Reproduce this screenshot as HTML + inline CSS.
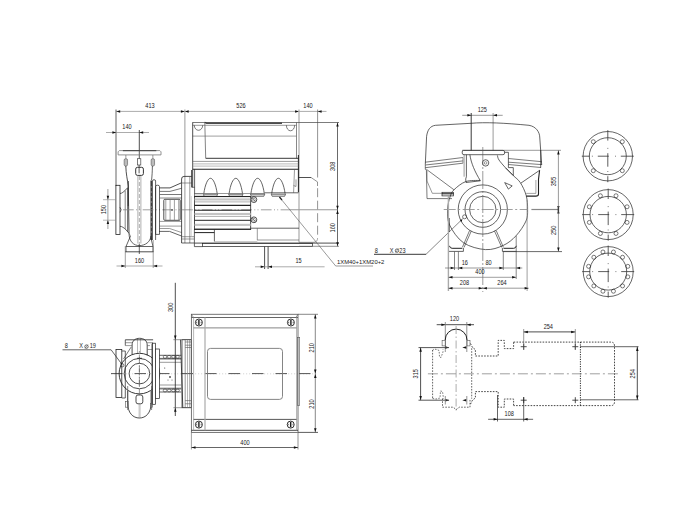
<!DOCTYPE html>
<html><head><meta charset="utf-8"><style>
html,body{margin:0;padding:0;background:#fff;width:700px;height:512px;overflow:hidden}
svg{display:block;font-family:"Liberation Sans",sans-serif}
</style></head><body>
<svg width="700" height="512" viewBox="0 0 700 512" stroke-linecap="butt">
<line x1="116.00" y1="111.40" x2="326.50" y2="111.40" stroke="#888" stroke-width="0.7"/>
<path d="M116.30,111.40 L120.20,110.15 L120.20,112.65Z" fill="#111"/>
<path d="M184.80,111.40 L180.90,110.15 L180.90,112.65Z" fill="#111"/>
<path d="M184.80,111.40 L188.70,110.15 L188.70,112.65Z" fill="#111"/>
<path d="M299.00,111.40 L295.10,110.15 L295.10,112.65Z" fill="#111"/>
<path d="M317.70,111.40 L321.60,110.15 L321.60,112.65Z" fill="#111"/>
<text transform="translate(150.00 106.20) scale(0.86 1)" font-size="6.5" fill="#1a1a1a" text-anchor="middle" dominant-baseline="central">413</text>
<text transform="translate(241.00 106.20) scale(0.86 1)" font-size="6.5" fill="#1a1a1a" text-anchor="middle" dominant-baseline="central">526</text>
<text transform="translate(308.00 106.20) scale(0.86 1)" font-size="6.5" fill="#1a1a1a" text-anchor="middle" dominant-baseline="central">140</text>
<line x1="116.00" y1="109.50" x2="116.00" y2="186.00" stroke="#666" stroke-width="1.0"/>
<line x1="184.90" y1="109.50" x2="184.90" y2="243.00" stroke="#999" stroke-width="1.0"/>
<line x1="299.00" y1="109.50" x2="299.00" y2="242.30" stroke="#aaa" stroke-width="1.2"/>
<line x1="317.60" y1="109.50" x2="317.60" y2="177.50" stroke="#666" stroke-width="0.7"/>
<path d="M311.10,177.50 L317.50,181.90 L317.50,186.00" stroke="#666" stroke-width="0.7" fill="none"/>
<line x1="317.60" y1="188.20" x2="317.60" y2="238.00" stroke="#777" stroke-width="0.8" stroke-dasharray="9 3.5"/>
<path d="M317.6,238 Q317.6,242.3 313.3,242.3 L299,242.3" stroke="#888" stroke-width="0.7" fill="none"/>
<line x1="106.00" y1="132.50" x2="149.00" y2="132.50" stroke="#888" stroke-width="0.7"/>
<path d="M116.30,132.50 L112.40,131.25 L112.40,133.75Z" fill="#111"/>
<path d="M139.30,132.50 L143.20,131.25 L143.20,133.75Z" fill="#111"/>
<text transform="translate(127.00 127.20) scale(0.86 1)" font-size="6.5" fill="#1a1a1a" text-anchor="middle" dominant-baseline="central">140</text>
<line x1="139.30" y1="130.00" x2="139.30" y2="150.00" stroke="#222" stroke-width="0.8"/>
<line x1="139.30" y1="150.00" x2="139.30" y2="158.70" stroke="#333" stroke-width="0.8"/>
<line x1="137.90" y1="175.50" x2="137.90" y2="243.50" stroke="#777" stroke-width="0.6"/>
<line x1="140.90" y1="175.50" x2="140.90" y2="243.50" stroke="#777" stroke-width="0.6"/>
<line x1="139.40" y1="176.00" x2="139.40" y2="243.00" stroke="#bbb" stroke-width="1.2" stroke-dasharray="4 2"/>
<line x1="139.30" y1="243.50" x2="139.30" y2="254.00" stroke="#222" stroke-width="0.7"/>
<path d="M118.1,151.8 L119.3,150.6 L159.8,150.6 L161,151.8 L161,154.9 L118.1,154.9 Z" stroke="#777" stroke-width="0.8" fill="none"/>
<line x1="122.90" y1="150.70" x2="156.30" y2="150.70" stroke="#333" stroke-width="0.9"/>
<rect x="124.15" y="158.70" width="3.40" height="7.30" rx="1.4" stroke="#555" stroke-width="0.6" fill="#bbb"/>
<line x1="125.85" y1="155.00" x2="125.85" y2="158.70" stroke="#555" stroke-width="0.6"/>
<rect x="151.15" y="158.70" width="3.40" height="7.30" rx="1.4" stroke="#555" stroke-width="0.6" fill="#bbb"/>
<line x1="152.85" y1="155.00" x2="152.85" y2="158.70" stroke="#555" stroke-width="0.6"/>
<rect x="137.40" y="158.70" width="3.40" height="6.30" rx="0" stroke="#444" stroke-width="0.7" fill="none"/>
<rect x="135.70" y="167.30" width="7.70" height="8.10" rx="1.8" stroke="#333" stroke-width="1.0" fill="none"/>
<line x1="139.10" y1="165.00" x2="139.10" y2="173.30" stroke="#333" stroke-width="0.8"/>
<path d="M125.8,166 C126,174 127.5,180 128.3,186 L129,233" stroke="#222" stroke-width="0.8" fill="none"/>
<line x1="128.20" y1="181.00" x2="128.20" y2="206.00" stroke="#333" stroke-width="1.0"/>
<path d="M152.4,166 C152.3,172 152,176 151.6,180" stroke="#222" stroke-width="0.7" fill="none"/>
<line x1="151.20" y1="180.50" x2="151.20" y2="240.00" stroke="#333" stroke-width="1.5"/>
<line x1="151.20" y1="186.00" x2="151.20" y2="236.00" stroke="#bbb" stroke-width="0.6" stroke-dasharray="2 3"/>
<path d="M152.5,240 L152.5,181 Q152.5,179.7 154,179.7 Q155.6,179.7 155.6,181 L155.6,240" stroke="#222" stroke-width="0.7" fill="none"/>
<rect x="115.90" y="185.30" width="4.10" height="49.20" rx="0" stroke="#222" stroke-width="0.8" fill="none"/>
<path d="M120,193.5 C122,193.5 124,191.5 125.2,190.3 L127.6,187.8" stroke="#222" stroke-width="0.7" fill="none"/>
<path d="M120,226.3 C122,226.3 124,228 125.2,229 L128.8,233" stroke="#222" stroke-width="0.7" fill="none"/>
<path d="M120,207.3 Q122.3,209.8 120,212.3" stroke="#222" stroke-width="0.7" fill="none"/>
<line x1="125.20" y1="190.30" x2="125.20" y2="229.00" stroke="#555" stroke-width="0.7"/>
<line x1="127.60" y1="187.80" x2="127.60" y2="232.00" stroke="#444" stroke-width="0.8"/>
<path d="M129,233 C129,242 134,245.6 139.3,245.6 C145,245.6 150.5,242 150.9,236" stroke="#222" stroke-width="0.7" fill="none"/>
<path d="M128.8,233 L130.5,236" stroke="#555" stroke-width="0.6" fill="none"/>
<path d="M130.50,236.00 L126.00,246.50 L153.00,246.50 L150.90,238.00" stroke="#222" stroke-width="0.7" fill="none"/>
<line x1="126.00" y1="246.50" x2="126.00" y2="252.00" stroke="#222" stroke-width="0.7"/>
<line x1="153.00" y1="246.50" x2="153.00" y2="252.00" stroke="#222" stroke-width="0.7"/>
<line x1="125.00" y1="251.80" x2="153.50" y2="251.80" stroke="#222" stroke-width="0.8"/>
<line x1="125.30" y1="246.00" x2="125.30" y2="268.00" stroke="#777" stroke-width="0.7"/>
<line x1="153.20" y1="240.00" x2="153.20" y2="268.00" stroke="#777" stroke-width="0.7"/>
<line x1="116.50" y1="266.00" x2="162.50" y2="266.00" stroke="#888" stroke-width="0.7"/>
<path d="M125.30,266.00 L121.40,264.75 L121.40,267.25Z" fill="#111"/>
<path d="M153.20,266.00 L157.10,264.75 L157.10,267.25Z" fill="#111"/>
<text transform="translate(139.50 260.70) scale(0.86 1)" font-size="6.5" fill="#1a1a1a" text-anchor="middle" dominant-baseline="central">160</text>
<line x1="107.90" y1="189.00" x2="107.90" y2="229.00" stroke="#777" stroke-width="0.7"/>
<path d="M107.90,199.70 L106.65,195.80 L109.15,195.80Z" fill="#111"/>
<path d="M107.90,220.20 L106.65,224.10 L109.15,224.10Z" fill="#111"/>
<line x1="103.00" y1="199.70" x2="116.00" y2="199.70" stroke="#888" stroke-width="0.6"/>
<line x1="103.00" y1="220.20" x2="116.00" y2="220.20" stroke="#888" stroke-width="0.6"/>
<text transform="translate(103.50 209.60) rotate(-90) scale(0.86 1)" font-size="6.5" fill="#1a1a1a" text-anchor="middle" dominant-baseline="central">150</text>
<line x1="123.00" y1="209.80" x2="290.00" y2="209.80" stroke="#888" stroke-width="0.8" stroke-dasharray="10.7 2.4 1 2.2 1 2.4"/>
<line x1="290.00" y1="209.80" x2="337.50" y2="209.80" stroke="#999" stroke-width="1.1"/>
<path d="M155.6,234.4 L155.6,186.5 Q155.6,185.2 157.5,185.2 Q159.5,185.2 159.5,186.5 L159.5,234.4 Z" stroke="#222" stroke-width="0.7" fill="none"/>
<path d="M159.50,187.90 L170.00,187.90 L181.50,182.80" stroke="#222" stroke-width="0.8" fill="none"/>
<path d="M159.50,191.40 L170.00,191.40 L181.50,188.30" stroke="#555" stroke-width="0.8" fill="none"/>
<line x1="159.50" y1="194.50" x2="181.50" y2="194.50" stroke="#555" stroke-width="0.8"/>
<line x1="159.50" y1="198.00" x2="181.50" y2="198.00" stroke="#555" stroke-width="0.7"/>
<line x1="159.00" y1="221.40" x2="181.50" y2="221.40" stroke="#555" stroke-width="0.6"/>
<line x1="159.00" y1="226.10" x2="181.50" y2="226.10" stroke="#555" stroke-width="0.6"/>
<path d="M159.00,231.40 L169.60,231.40 L181.50,236.00" stroke="#222" stroke-width="0.7" fill="none"/>
<path d="M159.00,228.50 L169.60,228.50 L181.50,232.50" stroke="#555" stroke-width="0.6" fill="none"/>
<rect x="163.80" y="199.30" width="16.40" height="21.00" rx="1" stroke="#222" stroke-width="0.8" fill="none"/>
<line x1="165.80" y1="200.00" x2="165.80" y2="220.00" stroke="#777" stroke-width="0.7"/>
<line x1="170.10" y1="200.00" x2="170.10" y2="220.00" stroke="#777" stroke-width="0.7"/>
<line x1="174.40" y1="200.00" x2="174.40" y2="220.00" stroke="#777" stroke-width="0.7"/>
<line x1="178.70" y1="200.00" x2="178.70" y2="220.00" stroke="#777" stroke-width="0.7"/>
<circle cx="172.00" cy="210.00" r="0.80" stroke="#222" stroke-width="0" fill="#222"/>
<path d="M181.6,243 L181.6,179 Q181.6,176.4 184,176.4 L191.7,176.4" stroke="#222" stroke-width="0.8" fill="none"/>
<line x1="189.80" y1="176.40" x2="189.80" y2="243.00" stroke="#555" stroke-width="0.6"/>
<line x1="181.60" y1="183.00" x2="191.70" y2="183.00" stroke="#555" stroke-width="0.6"/>
<line x1="181.60" y1="236.70" x2="194.00" y2="236.70" stroke="#555" stroke-width="0.6"/>
<line x1="181.60" y1="239.00" x2="194.00" y2="239.00" stroke="#555" stroke-width="0.6"/>
<line x1="181.60" y1="243.00" x2="194.00" y2="243.00" stroke="#222" stroke-width="0.7"/>
<path d="M204.6,122.4 L206.6,123.1 L282,123.1" stroke="#111" stroke-width="1.4" fill="none"/>
<line x1="192.70" y1="122.50" x2="339.00" y2="122.50" stroke="#444" stroke-width="0.7"/>
<line x1="192.70" y1="125.30" x2="296.40" y2="125.30" stroke="#555" stroke-width="0.6"/>
<line x1="192.70" y1="136.10" x2="296.40" y2="136.10" stroke="#777" stroke-width="0.7"/>
<line x1="204.80" y1="122.50" x2="205.70" y2="158.30" stroke="#666" stroke-width="0.8"/>
<line x1="192.70" y1="122.30" x2="192.70" y2="187.30" stroke="#222" stroke-width="0.8"/>
<line x1="191.70" y1="170.00" x2="191.70" y2="187.30" stroke="#222" stroke-width="0.9"/>
<line x1="296.50" y1="122.30" x2="296.50" y2="158.40" stroke="#555" stroke-width="0.7"/>
<line x1="298.40" y1="155.00" x2="298.40" y2="192.30" stroke="#222" stroke-width="1.0"/>
<path d="M194.3,125.3 A4.2,5 0 0 0 202.7,125.3" stroke="#222" stroke-width="0.6" fill="none"/>
<path d="M286.4,125.3 A4.1,5.5 0 0 0 294.6,125.3" stroke="#222" stroke-width="0.6" fill="none"/>
<line x1="205.70" y1="158.30" x2="298.40" y2="158.30" stroke="#222" stroke-width="0.9"/>
<line x1="192.70" y1="161.40" x2="298.40" y2="161.40" stroke="#555" stroke-width="0.6"/>
<line x1="192.70" y1="163.90" x2="298.40" y2="163.90" stroke="#888" stroke-width="0.6"/>
<line x1="192.70" y1="166.10" x2="298.40" y2="166.10" stroke="#888" stroke-width="0.6"/>
<line x1="192.70" y1="169.30" x2="298.40" y2="169.30" stroke="#222" stroke-width="1.1"/>
<line x1="194.60" y1="169.30" x2="194.60" y2="196.30" stroke="#222" stroke-width="0.7"/>
<line x1="191.70" y1="187.30" x2="194.60" y2="187.30" stroke="#222" stroke-width="0.6"/>
<path d="M294.50,169.30 L293.60,192.60" stroke="#555" stroke-width="0.6" fill="none"/>
<path d="M293.60,185.50 L296.00,186.50 L296.00,179.40" stroke="#555" stroke-width="0.6" fill="none"/>
<line x1="264.60" y1="192.80" x2="298.40" y2="192.80" stroke="#222" stroke-width="0.7"/>
<line x1="298.40" y1="177.50" x2="311.10" y2="177.50" stroke="#222" stroke-width="0.8"/>
<path d="M203.8,193.6 C205.0,185 207.7,178.3 210.5,178.3 C213.3,178.3 216.0,185 217.2,193.6" stroke="#222" stroke-width="0.7" fill="none"/>
<path d="M203.3,194.2 L217.7,194.2 L216.7,196.3 L204.3,196.3Z" stroke="#222" stroke-width="0.6" fill="#e0e0e0"/>
<path d="M229.10000000000002,193.6 C230.3,185 233.0,178.3 235.8,178.3 C238.60000000000002,178.3 241.3,185 242.5,193.6" stroke="#222" stroke-width="0.7" fill="none"/>
<path d="M228.60000000000002,194.2 L243.0,194.2 L242.0,196.3 L229.60000000000002,196.3Z" stroke="#222" stroke-width="0.6" fill="#e0e0e0"/>
<path d="M250.90000000000003,193.6 C252.10000000000002,185 254.8,178.3 257.6,178.3 C260.40000000000003,178.3 263.1,185 264.3,193.6" stroke="#222" stroke-width="0.7" fill="none"/>
<path d="M250.40000000000003,194.2 L264.8,194.2 L263.8,196.3 L251.40000000000003,196.3Z" stroke="#222" stroke-width="0.6" fill="#e0e0e0"/>
<path d="M271.7,193.6 C272.9,185 275.59999999999997,178.3 278.4,178.3 C281.2,178.3 283.9,185 285.09999999999997,193.6" stroke="#222" stroke-width="0.7" fill="none"/>
<path d="M271.2,194.2 L285.59999999999997,194.2 L284.59999999999997,196.3 L272.2,196.3Z" stroke="#222" stroke-width="0.6" fill="#e0e0e0"/>
<line x1="194.60" y1="193.50" x2="264.60" y2="193.50" stroke="#555" stroke-width="0.6"/>
<rect x="194.60" y="193.60" width="9.00" height="2.70" rx="0" stroke="#555" stroke-width="0.5" fill="#ddd"/>
<rect x="194.40" y="196.60" width="56.30" height="33.00" rx="0" stroke="#222" stroke-width="0.8" fill="none"/>
<rect x="194.60" y="198.40" width="56.00" height="2.10" rx="0" stroke="none" stroke-width="0" fill="#c4c4c4"/>
<rect x="194.60" y="212.90" width="56.00" height="2.10" rx="0" stroke="none" stroke-width="0" fill="#c4c4c4"/>
<rect x="194.60" y="223.80" width="56.00" height="2.10" rx="0" stroke="none" stroke-width="0" fill="#c4c4c4"/>
<line x1="194.40" y1="196.60" x2="250.70" y2="196.60" stroke="#222" stroke-width="1.0"/>
<line x1="194.40" y1="201.90" x2="250.70" y2="201.90" stroke="#777" stroke-width="0.6"/>
<line x1="194.40" y1="205.40" x2="250.70" y2="205.40" stroke="#222" stroke-width="1.1"/>
<line x1="194.40" y1="210.20" x2="250.70" y2="210.20" stroke="#222" stroke-width="1.1"/>
<line x1="194.40" y1="216.40" x2="250.70" y2="216.40" stroke="#777" stroke-width="0.6"/>
<line x1="194.40" y1="220.30" x2="250.70" y2="220.30" stroke="#222" stroke-width="1.0"/>
<line x1="194.40" y1="229.10" x2="250.70" y2="229.10" stroke="#222" stroke-width="1.0"/>
<line x1="191.30" y1="196.00" x2="191.30" y2="236.00" stroke="#aaa" stroke-width="0.5"/>
<circle cx="253.90" cy="199.60" r="2.90" stroke="#222" stroke-width="0.8" fill="none"/>
<line x1="252.30" y1="197.90" x2="255.30" y2="201.30" stroke="#222" stroke-width="0.6"/>
<circle cx="253.90" cy="199.60" r="1.50" stroke="#555" stroke-width="0.5" fill="none"/>
<circle cx="253.90" cy="219.80" r="2.90" stroke="#222" stroke-width="0.8" fill="none"/>
<line x1="252.30" y1="218.10" x2="255.30" y2="221.50" stroke="#222" stroke-width="0.6"/>
<circle cx="253.90" cy="219.80" r="1.50" stroke="#555" stroke-width="0.5" fill="none"/>
<line x1="250.70" y1="228.20" x2="299.00" y2="228.20" stroke="#222" stroke-width="0.7"/>
<line x1="194.40" y1="232.60" x2="214.40" y2="232.60" stroke="#222" stroke-width="1.0"/>
<line x1="214.40" y1="229.60" x2="214.40" y2="241.50" stroke="#222" stroke-width="0.7"/>
<line x1="257.30" y1="228.20" x2="257.30" y2="240.20" stroke="#555" stroke-width="0.6"/>
<line x1="257.30" y1="240.00" x2="299.00" y2="240.00" stroke="#555" stroke-width="0.6"/>
<line x1="214.40" y1="241.50" x2="257.30" y2="241.50" stroke="#999" stroke-width="0.5"/>
<line x1="194.40" y1="229.60" x2="194.40" y2="246.60" stroke="#222" stroke-width="0.7"/>
<line x1="194.40" y1="243.10" x2="339.00" y2="243.10" stroke="#222" stroke-width="0.8"/>
<rect x="202.60" y="243.30" width="110.00" height="3.30" rx="0" stroke="#222" stroke-width="0.7" fill="none"/>
<line x1="194.40" y1="246.60" x2="202.60" y2="246.60" stroke="#222" stroke-width="0.7"/>
<line x1="299.00" y1="246.30" x2="339.00" y2="246.30" stroke="#666" stroke-width="0.7"/>
<line x1="264.60" y1="246.60" x2="264.60" y2="269.00" stroke="#222" stroke-width="0.8"/>
<line x1="268.10" y1="246.60" x2="268.10" y2="269.00" stroke="#222" stroke-width="0.8"/>
<line x1="255.00" y1="266.80" x2="324.60" y2="266.80" stroke="#888" stroke-width="0.7"/>
<path d="M264.60,266.80 L260.70,265.55 L260.70,268.05Z" fill="#111"/>
<path d="M268.10,266.80 L272.00,265.55 L272.00,268.05Z" fill="#111"/>
<text transform="translate(298.50 261.20) scale(0.86 1)" font-size="6.5" fill="#1a1a1a" text-anchor="middle" dominant-baseline="central">15</text>
<line x1="337.50" y1="122.50" x2="337.50" y2="246.30" stroke="#444" stroke-width="0.8"/>
<path d="M337.50,122.70 L336.25,126.60 L338.75,126.60Z" fill="#111"/>
<path d="M337.50,209.60 L336.25,205.70 L338.75,205.70Z" fill="#111"/>
<path d="M337.50,210.10 L336.25,214.00 L338.75,214.00Z" fill="#111"/>
<path d="M337.50,246.10 L336.25,242.20 L338.75,242.20Z" fill="#111"/>
<text transform="translate(332.60 166.30) rotate(-90) scale(0.86 1)" font-size="6.5" fill="#1a1a1a" text-anchor="middle" dominant-baseline="central">308</text>
<text transform="translate(332.40 227.80) rotate(-90) scale(0.86 1)" font-size="6.5" fill="#1a1a1a" text-anchor="middle" dominant-baseline="central">160</text>
<path d="M279.40,197.00 L335.70,266.00 L373.00,266.00" stroke="#555" stroke-width="0.6" fill="none"/>
<line x1="279.40" y1="197.00" x2="282.00" y2="200.00" stroke="#222" stroke-width="1.2"/>
<text transform="translate(337.00 261.70) scale(0.95 1)" font-size="6.2" fill="#1a1a1a" text-anchor="start" dominant-baseline="central">1XM40+1XM20+2</text>
<line x1="462.20" y1="115.30" x2="502.70" y2="115.30" stroke="#555" stroke-width="0.6"/>
<path d="M471.30,115.30 L467.40,114.05 L467.40,116.55Z" fill="#111"/>
<path d="M493.10,115.30 L497.00,114.05 L497.00,116.55Z" fill="#111"/>
<text transform="translate(482.30 109.80) scale(0.86 1)" font-size="6.5" fill="#1a1a1a" text-anchor="middle" dominant-baseline="central">125</text>
<line x1="471.20" y1="113.00" x2="471.20" y2="150.50" stroke="#222" stroke-width="0.9"/>
<line x1="493.10" y1="113.00" x2="493.10" y2="150.50" stroke="#555" stroke-width="0.6"/>
<path d="M425.3,164.3 L426.6,136.3 C427.5,130 430,126 435.5,125.3 L471.1,123.3 C485,122 505,123 529,125.3 C536,126.5 539.8,132 539.8,138 L541.7,165" stroke="#222" stroke-width="0.7" fill="none"/>
<line x1="462.00" y1="150.30" x2="561.00" y2="150.30" stroke="#555" stroke-width="0.6"/>
<path d="M463.5,150.4 L503,150.4 Q504.6,150.4 504.6,152 L504.6,153 Q504.6,154.7 503,154.7 L464,154.7 Q462.2,154.7 462.2,153 L462.2,152 Q462.2,150.4 463.5,150.4Z" stroke="#222" stroke-width="0.7" fill="none"/>
<line x1="464.10" y1="154.70" x2="464.10" y2="176.70" stroke="#555" stroke-width="0.6"/>
<line x1="466.40" y1="154.70" x2="466.40" y2="176.70" stroke="#222" stroke-width="0.7"/>
<path d="M466.40,176.70 L465.70,179.00 L466.00,182.50" stroke="#222" stroke-width="0.7" fill="none"/>
<path d="M469.9,154.7 C471,163 475,172 480.4,180.8 L466,182.5" stroke="#222" stroke-width="0.7" fill="none"/>
<path d="M425.30,162.20 L462.90,157.50" stroke="#222" stroke-width="0.6" fill="none"/>
<path d="M425.30,165.00 L462.90,160.90" stroke="#222" stroke-width="0.6" fill="none"/>
<path d="M425.30,167.70 L462.90,163.20" stroke="#222" stroke-width="0.6" fill="none"/>
<line x1="462.90" y1="157.50" x2="462.90" y2="163.20" stroke="#555" stroke-width="0.6"/>
<path d="M508.40,158.50 L541.70,161.70" stroke="#222" stroke-width="0.6" fill="none"/>
<path d="M508.40,162.20 L541.70,164.60" stroke="#222" stroke-width="0.6" fill="none"/>
<path d="M508.40,164.50 L541.00,167.50" stroke="#222" stroke-width="0.6" fill="none"/>
<path d="M425.30,164.30 L425.30,169.30 L426.40,170.00 L427.00,198.60 L452.00,198.60" stroke="#222" stroke-width="0.6" fill="none"/>
<line x1="426.40" y1="169.30" x2="454.00" y2="189.80" stroke="#222" stroke-width="0.6"/>
<path d="M427.00,171.00 L427.00,181.00 L432.30,193.30 L442.30,193.30" stroke="#555" stroke-width="0.6" fill="none"/>
<rect x="442.00" y="192.30" width="11.50" height="3.60" rx="0" stroke="#222" stroke-width="0.7" fill="none"/>
<line x1="442.00" y1="193.80" x2="453.50" y2="193.80" stroke="#111" stroke-width="1.0"/>
<line x1="539.60" y1="170.30" x2="520.80" y2="183.20" stroke="#222" stroke-width="0.7"/>
<path d="M539.6,170.3 L538.5,179.4 L538.5,194 Q538.5,196.1 535.8,196.1 L526.2,196.1" stroke="#222" stroke-width="1.1" fill="none"/>
<path d="M535.90,180.00 L535.90,193.40 L526.20,193.40" stroke="#666" stroke-width="0.6" fill="none"/>
<line x1="540.70" y1="150.00" x2="540.70" y2="167.60" stroke="#222" stroke-width="0.7"/>
<path d="M504.70,152.30 L508.40,152.30 L508.40,167.60 L513.30,167.60 L513.30,175.60 L505.80,168.10" stroke="#222" stroke-width="0.7" fill="none"/>
<path d="M497.40,155.40 C497.67,156.17 497.60,157.88 499.00,160.00 C500.40,162.12 503.42,165.50 505.80,168.10 C508.18,170.70 510.88,173.18 513.30,175.60 C515.72,178.02 518.15,179.28 520.30,182.60 C522.45,185.92 524.98,191.02 526.20,195.50 C527.42,199.98 527.63,205.25 527.60,209.50 C527.57,213.75 527.90,216.65 526.00,221.00 C524.10,225.35 519.98,231.53 516.20,235.60 C512.42,239.67 508.42,243.07 503.30,245.40 C498.18,247.73 492.15,250.05 485.50,249.60 C478.85,249.15 469.38,246.80 463.40,242.70 C457.42,238.60 452.23,230.53 449.60,225.00 C446.97,219.47 447.53,214.17 447.60,209.50 C447.67,204.83 448.93,200.28 450.00,197.00 C451.07,193.72 451.38,192.37 454.00,189.80 C456.62,187.23 461.37,183.17 465.70,181.60 C470.03,180.03 477.62,180.60 480.00,180.40" stroke="#222" stroke-width="0.7" fill="none"/>
<path d="M504.70,182.60 L512.20,185.90 L508.40,189.10Z" stroke="#222" stroke-width="0.7" fill="none"/>
<circle cx="485.60" cy="162.90" r="3.20" stroke="#222" stroke-width="0.7" fill="none"/>
<circle cx="485.60" cy="162.90" r="1.30" stroke="#555" stroke-width="0.6" fill="none"/>
<circle cx="482.80" cy="209.50" r="24.60" stroke="#222" stroke-width="0.7" fill="none"/>
<circle cx="482.80" cy="209.50" r="17.80" stroke="#222" stroke-width="0.7" fill="none"/>
<circle cx="482.80" cy="209.50" r="13.20" stroke="#222" stroke-width="0.7" fill="none"/>
<line x1="482.80" y1="147.00" x2="482.80" y2="292.00" stroke="#555" stroke-width="0.6" stroke-dasharray="18 2 2 2"/>
<line x1="443.70" y1="209.50" x2="527.50" y2="209.50" stroke="#888" stroke-width="0.8" stroke-dasharray="12 2.5 2 2.5"/>
<line x1="531.40" y1="209.50" x2="558.40" y2="209.50" stroke="#888" stroke-width="1.2"/>
<line x1="558.40" y1="206.30" x2="558.40" y2="213.40" stroke="#222" stroke-width="1.4"/>
<line x1="557.00" y1="206.60" x2="559.80" y2="206.60" stroke="#222" stroke-width="0.6"/>
<line x1="557.00" y1="213.00" x2="559.80" y2="213.00" stroke="#222" stroke-width="0.6"/>
<circle cx="464.60" cy="216.80" r="2.00" stroke="#222" stroke-width="0.6" fill="none"/>
<path d="M463.00,218.50 L426.00,254.30" stroke="#555" stroke-width="0.7" fill="none"/>
<line x1="374.00" y1="254.30" x2="426.00" y2="254.30" stroke="#222" stroke-width="0.9"/>
<circle cx="461.20" cy="220.50" r="0.90" stroke="#222" stroke-width="0" fill="#111"/>
<text transform="translate(376.30 250.40) scale(0.86 1)" font-size="6.5" fill="#1a1a1a" text-anchor="middle" dominant-baseline="central">8</text>
<text transform="translate(391.60 250.40) scale(0.86 1)" font-size="6.5" fill="#1a1a1a" text-anchor="middle" dominant-baseline="central">X</text>
<circle cx="397.00" cy="250.60" r="1.70" stroke="#444" stroke-width="0.8" fill="none"/>
<line x1="395.50" y1="252.50" x2="398.50" y2="248.50" stroke="#444" stroke-width="0.5"/>
<text transform="translate(402.40 250.40) scale(0.86 1)" font-size="6.5" fill="#1a1a1a" text-anchor="middle" dominant-baseline="central">23</text>
<line x1="469.60" y1="230.50" x2="462.40" y2="247.30" stroke="#222" stroke-width="0.6"/>
<line x1="471.30" y1="231.00" x2="464.00" y2="247.50" stroke="#222" stroke-width="0.6"/>
<path d="M449.4,245.8 Q450.0,248.3 452.1,248.3 L462.3,248.3" stroke="#222" stroke-width="1.0" fill="none"/>
<path d="M449.00,251.40 L463.40,251.40 L463.40,248.00" stroke="#222" stroke-width="0.7" fill="none"/>
<line x1="496.20" y1="230.50" x2="503.40" y2="247.30" stroke="#222" stroke-width="0.6"/>
<line x1="494.50" y1="231.00" x2="501.80" y2="247.50" stroke="#222" stroke-width="0.6"/>
<path d="M516.4,245.8 Q515.8,248.3 513.6999999999999,248.3 L503.49999999999994,248.3" stroke="#222" stroke-width="1.0" fill="none"/>
<path d="M516.80,251.40 L502.40,251.40 L502.40,248.00" stroke="#222" stroke-width="0.7" fill="none"/>
<line x1="448.40" y1="196.00" x2="448.40" y2="291.00" stroke="#aaa" stroke-width="1.4"/>
<line x1="449.40" y1="218.00" x2="449.40" y2="232.00" stroke="#222" stroke-width="0.6"/>
<line x1="454.50" y1="251.40" x2="454.50" y2="270.00" stroke="#555" stroke-width="0.7"/>
<line x1="458.40" y1="251.40" x2="458.40" y2="270.00" stroke="#555" stroke-width="0.7"/>
<line x1="503.30" y1="251.60" x2="503.30" y2="270.00" stroke="#555" stroke-width="0.7"/>
<line x1="516.20" y1="235.60" x2="516.20" y2="279.00" stroke="#555" stroke-width="0.7"/>
<line x1="527.10" y1="200.00" x2="527.10" y2="291.00" stroke="#888" stroke-width="0.8"/>
<line x1="503.00" y1="251.60" x2="562.00" y2="251.60" stroke="#444" stroke-width="0.8"/>
<line x1="445.00" y1="268.00" x2="522.30" y2="268.00" stroke="#555" stroke-width="0.6"/>
<path d="M454.50,268.00 L450.60,266.75 L450.60,269.25Z" fill="#111"/>
<path d="M458.40,268.00 L462.30,266.75 L462.30,269.25Z" fill="#111"/>
<path d="M503.30,268.00 L499.40,266.75 L499.40,269.25Z" fill="#111"/>
<path d="M516.20,268.00 L520.10,266.75 L520.10,269.25Z" fill="#111"/>
<text transform="translate(464.80 263.10) scale(0.86 1)" font-size="6.5" fill="#1a1a1a" text-anchor="middle" dominant-baseline="central">16</text>
<text transform="translate(488.50 263.10) scale(0.86 1)" font-size="6.5" fill="#1a1a1a" text-anchor="middle" dominant-baseline="central">80</text>
<line x1="448.40" y1="277.30" x2="516.20" y2="277.30" stroke="#777" stroke-width="0.7"/>
<path d="M448.60,277.30 L452.50,276.05 L452.50,278.55Z" fill="#111"/>
<path d="M516.00,277.30 L512.10,276.05 L512.10,278.55Z" fill="#111"/>
<text transform="translate(480.00 271.70) scale(0.86 1)" font-size="6.5" fill="#1a1a1a" text-anchor="middle" dominant-baseline="central">400</text>
<line x1="448.40" y1="288.20" x2="528.70" y2="288.20" stroke="#555" stroke-width="0.6"/>
<path d="M448.60,288.20 L452.50,286.95 L452.50,289.45Z" fill="#111"/>
<path d="M482.60,288.20 L478.70,286.95 L478.70,289.45Z" fill="#111"/>
<path d="M483.00,288.20 L486.90,286.95 L486.90,289.45Z" fill="#111"/>
<path d="M528.50,288.20 L524.60,286.95 L524.60,289.45Z" fill="#111"/>
<text transform="translate(464.50 282.60) scale(0.86 1)" font-size="6.5" fill="#1a1a1a" text-anchor="middle" dominant-baseline="central">208</text>
<text transform="translate(502.00 282.60) scale(0.86 1)" font-size="6.5" fill="#1a1a1a" text-anchor="middle" dominant-baseline="central">264</text>
<line x1="558.40" y1="150.30" x2="558.40" y2="251.30" stroke="#555" stroke-width="0.6"/>
<path d="M558.40,150.60 L557.15,154.50 L559.65,154.50Z" fill="#111"/>
<path d="M558.40,251.40 L557.15,247.50 L559.65,247.50Z" fill="#111"/>
<text transform="translate(554.00 181.60) rotate(-90) scale(0.86 1)" font-size="6.5" fill="#1a1a1a" text-anchor="middle" dominant-baseline="central">355</text>
<text transform="translate(553.70 230.40) rotate(-90) scale(0.86 1)" font-size="6.5" fill="#1a1a1a" text-anchor="middle" dominant-baseline="central">250</text>
<circle cx="607.80" cy="156.20" r="24.70" stroke="#222" stroke-width="0.7" fill="none"/>
<circle cx="607.80" cy="156.20" r="18.50" stroke="#222" stroke-width="0.7" fill="none"/>
<circle cx="622.30" cy="170.70" r="2.00" stroke="#222" stroke-width="0.6" fill="none"/>
<circle cx="593.30" cy="170.70" r="2.00" stroke="#222" stroke-width="0.6" fill="none"/>
<circle cx="593.30" cy="141.70" r="2.00" stroke="#222" stroke-width="0.6" fill="none"/>
<circle cx="622.30" cy="141.70" r="2.00" stroke="#222" stroke-width="0.6" fill="none"/>
<line x1="581.80" y1="156.20" x2="589.80" y2="156.20" stroke="#333" stroke-width="0.8"/>
<line x1="591.90" y1="156.20" x2="592.70" y2="156.20" stroke="#333" stroke-width="0.8"/>
<line x1="597.80" y1="156.20" x2="608.80" y2="156.20" stroke="#333" stroke-width="0.8"/>
<line x1="615.10" y1="156.20" x2="615.90" y2="156.20" stroke="#333" stroke-width="0.8"/>
<line x1="620.80" y1="156.20" x2="633.80" y2="156.20" stroke="#333" stroke-width="0.8"/>
<line x1="607.80" y1="130.20" x2="607.80" y2="140.60" stroke="#333" stroke-width="0.8"/>
<line x1="607.80" y1="147.90" x2="607.80" y2="148.70" stroke="#333" stroke-width="0.8"/>
<line x1="607.80" y1="153.20" x2="607.80" y2="166.70" stroke="#333" stroke-width="0.8"/>
<line x1="607.80" y1="171.20" x2="607.80" y2="172.00" stroke="#333" stroke-width="0.8"/>
<line x1="607.80" y1="176.20" x2="607.80" y2="182.20" stroke="#333" stroke-width="0.8"/>
<circle cx="608.20" cy="214.60" r="25.00" stroke="#222" stroke-width="0.7" fill="none"/>
<circle cx="608.20" cy="214.60" r="18.20" stroke="#222" stroke-width="0.7" fill="none"/>
<circle cx="627.05" cy="222.41" r="2.00" stroke="#222" stroke-width="0.6" fill="none"/>
<circle cx="616.01" cy="233.45" r="2.00" stroke="#222" stroke-width="0.6" fill="none"/>
<circle cx="600.39" cy="233.45" r="2.00" stroke="#222" stroke-width="0.6" fill="none"/>
<circle cx="589.35" cy="222.41" r="2.00" stroke="#222" stroke-width="0.6" fill="none"/>
<circle cx="589.35" cy="206.79" r="2.00" stroke="#222" stroke-width="0.6" fill="none"/>
<circle cx="600.39" cy="195.75" r="2.00" stroke="#222" stroke-width="0.6" fill="none"/>
<circle cx="616.01" cy="195.75" r="2.00" stroke="#222" stroke-width="0.6" fill="none"/>
<circle cx="627.05" cy="206.79" r="2.00" stroke="#222" stroke-width="0.6" fill="none"/>
<line x1="582.20" y1="214.60" x2="590.20" y2="214.60" stroke="#333" stroke-width="0.8"/>
<line x1="592.30" y1="214.60" x2="593.10" y2="214.60" stroke="#333" stroke-width="0.8"/>
<line x1="598.20" y1="214.60" x2="609.20" y2="214.60" stroke="#333" stroke-width="0.8"/>
<line x1="615.50" y1="214.60" x2="616.30" y2="214.60" stroke="#333" stroke-width="0.8"/>
<line x1="621.20" y1="214.60" x2="634.20" y2="214.60" stroke="#333" stroke-width="0.8"/>
<line x1="608.20" y1="188.60" x2="608.20" y2="199.00" stroke="#333" stroke-width="0.8"/>
<line x1="608.20" y1="206.30" x2="608.20" y2="207.10" stroke="#333" stroke-width="0.8"/>
<line x1="608.20" y1="211.60" x2="608.20" y2="225.10" stroke="#333" stroke-width="0.8"/>
<line x1="608.20" y1="229.60" x2="608.20" y2="230.40" stroke="#333" stroke-width="0.8"/>
<line x1="608.20" y1="234.60" x2="608.20" y2="240.60" stroke="#333" stroke-width="0.8"/>
<circle cx="608.20" cy="271.60" r="25.00" stroke="#222" stroke-width="0.7" fill="none"/>
<circle cx="608.20" cy="271.60" r="18.50" stroke="#222" stroke-width="0.7" fill="none"/>
<circle cx="627.81" cy="276.85" r="2.00" stroke="#222" stroke-width="0.6" fill="none"/>
<circle cx="622.55" cy="285.95" r="2.00" stroke="#222" stroke-width="0.6" fill="none"/>
<circle cx="613.45" cy="291.21" r="2.00" stroke="#222" stroke-width="0.6" fill="none"/>
<circle cx="602.95" cy="291.21" r="2.00" stroke="#222" stroke-width="0.6" fill="none"/>
<circle cx="593.85" cy="285.95" r="2.00" stroke="#222" stroke-width="0.6" fill="none"/>
<circle cx="588.59" cy="276.85" r="2.00" stroke="#222" stroke-width="0.6" fill="none"/>
<circle cx="588.59" cy="266.35" r="2.00" stroke="#222" stroke-width="0.6" fill="none"/>
<circle cx="593.85" cy="257.25" r="2.00" stroke="#222" stroke-width="0.6" fill="none"/>
<circle cx="602.95" cy="251.99" r="2.00" stroke="#222" stroke-width="0.6" fill="none"/>
<circle cx="613.45" cy="251.99" r="2.00" stroke="#222" stroke-width="0.6" fill="none"/>
<circle cx="622.55" cy="257.25" r="2.00" stroke="#222" stroke-width="0.6" fill="none"/>
<circle cx="627.81" cy="266.35" r="2.00" stroke="#222" stroke-width="0.6" fill="none"/>
<line x1="582.20" y1="271.60" x2="590.20" y2="271.60" stroke="#333" stroke-width="0.8"/>
<line x1="592.30" y1="271.60" x2="593.10" y2="271.60" stroke="#333" stroke-width="0.8"/>
<line x1="598.20" y1="271.60" x2="609.20" y2="271.60" stroke="#333" stroke-width="0.8"/>
<line x1="615.50" y1="271.60" x2="616.30" y2="271.60" stroke="#333" stroke-width="0.8"/>
<line x1="621.20" y1="271.60" x2="634.20" y2="271.60" stroke="#333" stroke-width="0.8"/>
<line x1="608.20" y1="245.60" x2="608.20" y2="256.00" stroke="#333" stroke-width="0.8"/>
<line x1="608.20" y1="263.30" x2="608.20" y2="264.10" stroke="#333" stroke-width="0.8"/>
<line x1="608.20" y1="268.60" x2="608.20" y2="282.10" stroke="#333" stroke-width="0.8"/>
<line x1="608.20" y1="286.60" x2="608.20" y2="287.40" stroke="#333" stroke-width="0.8"/>
<line x1="608.20" y1="291.60" x2="608.20" y2="297.60" stroke="#333" stroke-width="0.8"/>
<text transform="translate(66.30 345.40) scale(0.86 1)" font-size="6.5" fill="#1a1a1a" text-anchor="middle" dominant-baseline="central">8</text>
<text transform="translate(81.00 345.40) scale(0.86 1)" font-size="6.5" fill="#1a1a1a" text-anchor="middle" dominant-baseline="central">X</text>
<circle cx="86.50" cy="346.60" r="1.70" stroke="#444" stroke-width="0.8" fill="none"/>
<line x1="85.00" y1="348.50" x2="88.00" y2="344.50" stroke="#444" stroke-width="0.5"/>
<text transform="translate(92.80 345.40) scale(0.86 1)" font-size="6.5" fill="#1a1a1a" text-anchor="middle" dominant-baseline="central">19</text>
<path d="M62.50,349.80 L111.10,349.80 L121.30,363.50" stroke="#222" stroke-width="0.7" fill="none"/>
<circle cx="122.30" cy="365.30" r="1.60" stroke="#222" stroke-width="0.6" fill="none"/>
<circle cx="121.30" cy="363.50" r="0.80" stroke="#222" stroke-width="0" fill="#111"/>
<line x1="111.00" y1="373.80" x2="318.00" y2="373.80" stroke="#ccc" stroke-width="0.8" stroke-dasharray="1.2 1.8"/>
<path d="M111,373.6 L318,373.6" stroke="#555" stroke-width="1.0" fill="none" stroke-dasharray="11.5 12"/>
<line x1="139.40" y1="357.00" x2="139.40" y2="388.00" stroke="#555" stroke-width="0.6" stroke-dasharray="6 2 1.5 2"/>
<rect x="116.00" y="349.50" width="5.80" height="48.00" rx="0" stroke="#222" stroke-width="0.8" fill="none"/>
<path d="M121.80,351.00 L125.30,351.00 L125.30,398.00 L121.80,398.00" stroke="#222" stroke-width="0.7" fill="none"/>
<circle cx="139.40" cy="373.60" r="20.30" stroke="#222" stroke-width="0.9" fill="none"/>
<circle cx="139.40" cy="373.60" r="15.20" stroke="#222" stroke-width="0.8" fill="none"/>
<circle cx="139.40" cy="373.60" r="10.30" stroke="#222" stroke-width="0.8" fill="none"/>
<line x1="137.00" y1="358.30" x2="142.00" y2="358.30" stroke="#222" stroke-width="0.8"/>
<path d="M132.1,354.5 L132.1,345 C132.1,340.5 135.5,338.3 139.6,338.3 C143.7,338.3 147.2,340.5 147.2,345 L147.2,355.5" stroke="#222" stroke-width="0.8" fill="none"/>
<line x1="137.50" y1="339.00" x2="137.50" y2="353.00" stroke="#888" stroke-width="0.6"/>
<line x1="140.40" y1="339.00" x2="140.40" y2="353.00" stroke="#888" stroke-width="0.6"/>
<line x1="125.30" y1="339.80" x2="153.10" y2="339.80" stroke="#222" stroke-width="0.8"/>
<line x1="125.30" y1="339.80" x2="125.30" y2="345.60" stroke="#222" stroke-width="0.7"/>
<line x1="125.30" y1="342.70" x2="132.10" y2="342.70" stroke="#555" stroke-width="0.6"/>
<line x1="147.20" y1="342.70" x2="153.10" y2="342.70" stroke="#555" stroke-width="0.6"/>
<line x1="125.30" y1="345.60" x2="132.10" y2="345.60" stroke="#555" stroke-width="0.6"/>
<line x1="147.20" y1="345.60" x2="150.00" y2="345.60" stroke="#555" stroke-width="0.6"/>
<line x1="131.10" y1="347.10" x2="123.50" y2="359.00" stroke="#222" stroke-width="0.6"/>
<line x1="147.50" y1="349.50" x2="152.00" y2="349.50" stroke="#555" stroke-width="0.6"/>
<line x1="152.10" y1="343.70" x2="152.10" y2="404.30" stroke="#333" stroke-width="1.0"/>
<rect x="152.60" y="343.20" width="2.90" height="61.10" rx="0" stroke="#222" stroke-width="0.7" fill="#fff"/>
<rect x="155.50" y="349.00" width="3.90" height="49.40" rx="0" stroke="#222" stroke-width="0.7" fill="#fff"/>
<path d="M127.7,391 L127.7,403 C127.7,413 133,418 139.4,418 C145.8,418 151.1,413 151.1,403 L151.1,391" stroke="#222" stroke-width="0.8" fill="none"/>
<path d="M136,397 Q136,395 138,395 L140.8,395 Q142.8,395 142.8,397 L142.8,401.8 Q142.8,403.8 140.8,403.8 L138,403.8 Q136,403.8 136,401.8Z" stroke="#222" stroke-width="0.8" fill="none"/>
<line x1="139.10" y1="403.80" x2="139.10" y2="418.00" stroke="#888" stroke-width="0.5"/>
<line x1="140.10" y1="403.80" x2="140.10" y2="418.00" stroke="#888" stroke-width="0.5"/>
<line x1="139.40" y1="395.00" x2="139.40" y2="350.00" stroke="#555" stroke-width="0.6" stroke-dasharray="6 2 1.5 2"/>
<rect x="125.30" y="401.40" width="2.90" height="5.80" rx="0" stroke="#555" stroke-width="0.6" fill="none"/>
<rect x="150.60" y="403.30" width="2.00" height="3.90" rx="0" stroke="#555" stroke-width="0.6" fill="none"/>
<line x1="127.70" y1="386.00" x2="127.70" y2="410.00" stroke="#555" stroke-width="0.7"/>
<line x1="151.60" y1="386.00" x2="151.60" y2="410.00" stroke="#555" stroke-width="0.7"/>
<line x1="159.40" y1="355.30" x2="181.20" y2="355.30" stroke="#222" stroke-width="0.7"/>
<line x1="159.40" y1="358.40" x2="181.20" y2="358.40" stroke="#222" stroke-width="0.7"/>
<line x1="159.40" y1="359.20" x2="181.20" y2="359.20" stroke="#555" stroke-width="0.6"/>
<line x1="159.40" y1="362.30" x2="181.20" y2="362.30" stroke="#555" stroke-width="0.6"/>
<line x1="159.40" y1="385.00" x2="181.20" y2="385.00" stroke="#555" stroke-width="0.6"/>
<line x1="159.40" y1="388.10" x2="181.20" y2="388.10" stroke="#555" stroke-width="0.6"/>
<line x1="159.40" y1="388.90" x2="181.20" y2="388.90" stroke="#222" stroke-width="0.7"/>
<line x1="159.40" y1="392.00" x2="181.20" y2="392.00" stroke="#222" stroke-width="0.7"/>
<rect x="163.30" y="355.50" width="3.40" height="2.70" rx="1.2" stroke="#333" stroke-width="0.6" fill="none"/>
<rect x="163.30" y="389.10" width="3.40" height="2.70" rx="1.2" stroke="#333" stroke-width="0.6" fill="none"/>
<rect x="167.50" y="355.50" width="3.40" height="2.70" rx="1.2" stroke="#333" stroke-width="0.6" fill="none"/>
<rect x="167.50" y="389.10" width="3.40" height="2.70" rx="1.2" stroke="#333" stroke-width="0.6" fill="none"/>
<rect x="171.70" y="355.50" width="3.40" height="2.70" rx="1.2" stroke="#333" stroke-width="0.6" fill="none"/>
<rect x="171.70" y="389.10" width="3.40" height="2.70" rx="1.2" stroke="#333" stroke-width="0.6" fill="none"/>
<rect x="175.90" y="355.50" width="3.40" height="2.70" rx="1.2" stroke="#333" stroke-width="0.6" fill="none"/>
<rect x="175.90" y="389.10" width="3.40" height="2.70" rx="1.2" stroke="#333" stroke-width="0.6" fill="none"/>
<line x1="180.50" y1="339.70" x2="182.80" y2="407.70" stroke="#222" stroke-width="0.8"/>
<circle cx="164.70" cy="368.00" r="0.60" stroke="#222" stroke-width="0" fill="#444"/>
<circle cx="170.00" cy="377.00" r="0.90" stroke="#222" stroke-width="0" fill="#444"/>
<circle cx="168.00" cy="380.00" r="0.50" stroke="#222" stroke-width="0" fill="#444"/>
<circle cx="172.00" cy="380.00" r="0.50" stroke="#222" stroke-width="0" fill="#444"/>
<rect x="182.00" y="339.70" width="9.40" height="68.00" rx="0" stroke="#222" stroke-width="0.7" fill="none"/>
<line x1="185.20" y1="339.70" x2="185.20" y2="407.70" stroke="#555" stroke-width="0.6"/>
<line x1="187.50" y1="339.70" x2="187.50" y2="407.70" stroke="#888" stroke-width="0.6"/>
<line x1="189.80" y1="339.70" x2="189.80" y2="407.70" stroke="#555" stroke-width="0.6"/>
<line x1="185.20" y1="342.00" x2="191.40" y2="342.00" stroke="#555" stroke-width="0.6"/>
<line x1="185.20" y1="345.20" x2="191.40" y2="345.20" stroke="#555" stroke-width="0.6"/>
<line x1="185.20" y1="347.50" x2="191.40" y2="347.50" stroke="#555" stroke-width="0.6"/>
<line x1="185.20" y1="400.60" x2="191.40" y2="400.60" stroke="#555" stroke-width="0.6"/>
<line x1="185.20" y1="403.75" x2="191.40" y2="403.75" stroke="#555" stroke-width="0.6"/>
<line x1="175.30" y1="282.80" x2="175.30" y2="416.00" stroke="#222" stroke-width="0.8"/>
<path d="M175.30,339.50 L174.05,335.60 L176.55,335.60Z" fill="#111"/>
<path d="M175.30,407.90 L174.05,411.80 L176.55,411.80Z" fill="#111"/>
<line x1="173.40" y1="339.70" x2="191.00" y2="339.70" stroke="#555" stroke-width="0.6"/>
<line x1="173.40" y1="407.70" x2="191.00" y2="407.70" stroke="#555" stroke-width="0.6"/>
<text transform="translate(170.50 307.40) rotate(-90) scale(0.86 1)" font-size="6.5" fill="#1a1a1a" text-anchor="middle" dominant-baseline="central">300</text>
<rect x="191.40" y="314.30" width="106.60" height="118.10" rx="0" stroke="#666" stroke-width="0.9" fill="none"/>
<line x1="191.40" y1="317.50" x2="298.00" y2="317.50" stroke="#555" stroke-width="0.9"/>
<line x1="191.40" y1="430.30" x2="298.00" y2="430.30" stroke="#333" stroke-width="0.9"/>
<line x1="191.40" y1="314.30" x2="193.60" y2="317.50" stroke="#555" stroke-width="0.6"/>
<line x1="298.00" y1="314.30" x2="295.80" y2="317.50" stroke="#555" stroke-width="0.6"/>
<line x1="193.60" y1="317.50" x2="193.60" y2="430.30" stroke="#999" stroke-width="0.7"/>
<line x1="296.50" y1="317.50" x2="296.50" y2="430.30" stroke="#999" stroke-width="0.7"/>
<line x1="193.60" y1="327.90" x2="296.50" y2="327.90" stroke="#777" stroke-width="0.9"/>
<line x1="193.60" y1="419.40" x2="296.50" y2="419.40" stroke="#444" stroke-width="0.9"/>
<line x1="205.00" y1="317.50" x2="205.00" y2="430.30" stroke="#aaa" stroke-width="1.2"/>
<circle cx="198.90" cy="322.50" r="3.50" stroke="#333" stroke-width="1.0" fill="#f4f4f4"/>
<line x1="198.90" y1="319.90" x2="198.90" y2="325.10" stroke="#111" stroke-width="1.3"/>
<line x1="195.90" y1="322.50" x2="197.10" y2="322.50" stroke="#555" stroke-width="0.8"/>
<line x1="200.70" y1="322.50" x2="201.90" y2="322.50" stroke="#555" stroke-width="0.8"/>
<circle cx="290.90" cy="322.50" r="3.50" stroke="#333" stroke-width="1.0" fill="#f4f4f4"/>
<line x1="290.90" y1="319.90" x2="290.90" y2="325.10" stroke="#111" stroke-width="1.3"/>
<line x1="287.90" y1="322.50" x2="289.10" y2="322.50" stroke="#555" stroke-width="0.8"/>
<line x1="292.70" y1="322.50" x2="293.90" y2="322.50" stroke="#555" stroke-width="0.8"/>
<circle cx="198.90" cy="424.60" r="3.50" stroke="#333" stroke-width="1.0" fill="#f4f4f4"/>
<line x1="198.90" y1="422.00" x2="198.90" y2="427.20" stroke="#111" stroke-width="1.3"/>
<line x1="195.90" y1="424.60" x2="197.10" y2="424.60" stroke="#555" stroke-width="0.8"/>
<line x1="200.70" y1="424.60" x2="201.90" y2="424.60" stroke="#555" stroke-width="0.8"/>
<circle cx="290.70" cy="424.60" r="3.50" stroke="#333" stroke-width="1.0" fill="#f4f4f4"/>
<line x1="290.70" y1="422.00" x2="290.70" y2="427.20" stroke="#111" stroke-width="1.3"/>
<line x1="287.70" y1="424.60" x2="288.90" y2="424.60" stroke="#555" stroke-width="0.8"/>
<line x1="292.50" y1="424.60" x2="293.70" y2="424.60" stroke="#555" stroke-width="0.8"/>
<rect x="207.50" y="348.40" width="75.00" height="51.00" rx="3" stroke="#777" stroke-width="0.9" fill="none"/>
<rect x="297.50" y="337.50" width="2.20" height="68.00" rx="0" stroke="#555" stroke-width="0.6" fill="none"/>
<line x1="298.00" y1="314.30" x2="318.00" y2="314.30" stroke="#555" stroke-width="0.7"/>
<line x1="298.00" y1="432.40" x2="318.00" y2="432.40" stroke="#333" stroke-width="0.8"/>
<line x1="315.30" y1="314.30" x2="315.30" y2="432.40" stroke="#555" stroke-width="0.7"/>
<path d="M315.30,314.60 L314.05,318.50 L316.55,318.50Z" fill="#111"/>
<path d="M315.30,373.50 L314.05,369.60 L316.55,369.60Z" fill="#111"/>
<path d="M315.30,374.10 L314.05,378.00 L316.55,378.00Z" fill="#111"/>
<path d="M315.30,432.10 L314.05,428.20 L316.55,428.20Z" fill="#111"/>
<text transform="translate(311.70 347.80) rotate(-90) scale(0.86 1)" font-size="6.5" fill="#1a1a1a" text-anchor="middle" dominant-baseline="central">210</text>
<text transform="translate(311.70 404.00) rotate(-90) scale(0.86 1)" font-size="6.5" fill="#1a1a1a" text-anchor="middle" dominant-baseline="central">210</text>
<line x1="191.40" y1="432.40" x2="191.40" y2="449.50" stroke="#777" stroke-width="0.7"/>
<line x1="298.00" y1="432.40" x2="298.00" y2="449.50" stroke="#777" stroke-width="0.8"/>
<line x1="191.40" y1="447.50" x2="298.00" y2="447.50" stroke="#555" stroke-width="0.9"/>
<path d="M191.60,447.50 L195.50,446.25 L195.50,448.75Z" fill="#111"/>
<path d="M297.80,447.50 L293.90,446.25 L293.90,448.75Z" fill="#111"/>
<text transform="translate(245.00 442.90) scale(0.86 1)" font-size="6.5" fill="#1a1a1a" text-anchor="middle" dominant-baseline="central">400</text>
<line x1="436.70" y1="324.70" x2="474.00" y2="324.70" stroke="#222" stroke-width="0.8"/>
<path d="M445.30,324.70 L441.40,323.45 L441.40,325.95Z" fill="#111"/>
<path d="M466.80,324.70 L470.70,323.45 L470.70,325.95Z" fill="#111"/>
<text transform="translate(454.50 319.00) scale(0.86 1)" font-size="6.5" fill="#1a1a1a" text-anchor="middle" dominant-baseline="central">120</text>
<line x1="445.30" y1="322.00" x2="445.30" y2="352.00" stroke="#777" stroke-width="0.8"/>
<line x1="466.80" y1="322.00" x2="466.80" y2="352.00" stroke="#777" stroke-width="0.8"/>
<path d="M445.2,340 A10.9,10.9 0 0 1 467,340" stroke="#222" stroke-width="1.0" fill="none"/>
<rect x="442.10" y="340.30" width="3.20" height="5.60" rx="0" stroke="#555" stroke-width="0.6" fill="none"/>
<rect x="467.00" y="340.30" width="3.00" height="5.60" rx="0" stroke="#555" stroke-width="0.6" fill="none"/>
<line x1="456.10" y1="326.00" x2="456.10" y2="412.00" stroke="#999" stroke-width="0.8" stroke-dasharray="8 2.5 1.5 2.5"/>
<path d="M449.30,347.60 L445.30,346.35 L445.30,348.85Z" fill="#111"/>
<path d="M462.30,347.60 L466.30,346.35 L466.30,348.85Z" fill="#111"/>
<path d="M449.30,400.20 L445.30,398.95 L445.30,401.45Z" fill="#111"/>
<path d="M462.30,400.20 L466.30,398.95 L466.30,401.45Z" fill="#111"/>
<line x1="420.60" y1="347.50" x2="420.60" y2="400.20" stroke="#222" stroke-width="0.8"/>
<path d="M420.60,347.80 L419.35,351.70 L421.85,351.70Z" fill="#111"/>
<path d="M420.60,400.00 L419.35,396.10 L421.85,396.10Z" fill="#111"/>
<line x1="418.50" y1="347.60" x2="449.00" y2="347.60" stroke="#444" stroke-width="0.9"/>
<line x1="418.50" y1="400.20" x2="449.00" y2="400.20" stroke="#444" stroke-width="0.9"/>
<text transform="translate(415.80 373.80) rotate(-90) scale(0.86 1)" font-size="6.5" fill="#1a1a1a" text-anchor="middle" dominant-baseline="central">315</text>
<path d="M432.70,350.50 L433.50,349.30 L436.10,349.30 L439.10,350.50 L439.50,357.00 L441.00,357.50 L443.00,352.00 L443.00,349.50" stroke="#222" stroke-width="0.6" fill="none" stroke-dasharray="1.6 1.3"/>
<path d="M432.60,398.50 L436.00,399.00 L440.00,398.00 L440.50,391.00 L442.50,391.50 L443.50,398.50" stroke="#222" stroke-width="0.6" fill="none" stroke-dasharray="1.6 1.3"/>
<line x1="432.60" y1="350.00" x2="432.60" y2="398.50" stroke="#222" stroke-width="0.7" stroke-dasharray="1.6 1.3"/>
<line x1="471.70" y1="348.30" x2="471.70" y2="398.70" stroke="#222" stroke-width="0.7" stroke-dasharray="1.6 1.3"/>
<path d="M470.50,343.50 L472.50,347.50 L475.40,349.60 L475.40,356.00 L498.20,356.00 L498.20,340.40 L504.30,340.40 L504.30,348.60 L513.60,348.60 L513.60,342.10" stroke="#333" stroke-width="0.9" fill="none" stroke-dasharray="1.6 1.3"/>
<path d="M470.50,404.10 L472.50,400.10 L475.40,398.00 L475.40,391.60 L498.20,391.60 L498.20,407.20 L504.30,407.20 L504.30,399.00 L513.60,399.00 L513.60,405.60" stroke="#333" stroke-width="0.9" fill="none" stroke-dasharray="1.6 1.3"/>
<path d="M442.50,398.40 L442.50,407.20 L453.10,407.20 L456.20,409.50 L459.30,407.20 L470.00,407.20 L470.00,399.00" stroke="#222" stroke-width="0.7" fill="none" stroke-dasharray="1.6 1.3"/>
<path d="M513.6,342.1 L611,342.1 Q614.5,342.1 614.5,346 L614.5,401.7 Q614.5,405.6 611,405.6 L513.6,405.6" stroke="#333" stroke-width="0.9" fill="none" stroke-dasharray="1.6 1.3"/>
<line x1="580.40" y1="342.00" x2="580.40" y2="405.70" stroke="#111" stroke-width="0.9" stroke-dasharray="1.2 1.2"/>
<line x1="580.00" y1="346.70" x2="638.50" y2="346.70" stroke="#222" stroke-width="0.7"/>
<line x1="580.00" y1="399.80" x2="638.50" y2="399.80" stroke="#222" stroke-width="0.7"/>
<line x1="637.30" y1="346.70" x2="637.30" y2="399.80" stroke="#222" stroke-width="0.8"/>
<path d="M637.30,347.00 L636.05,350.90 L638.55,350.90Z" fill="#111"/>
<path d="M637.30,399.50 L636.05,395.60 L638.55,395.60Z" fill="#111"/>
<text transform="translate(632.80 373.80) rotate(-90) scale(0.86 1)" font-size="6.5" fill="#1a1a1a" text-anchor="middle" dominant-baseline="central">254</text>
<line x1="427.90" y1="373.80" x2="620.00" y2="373.80" stroke="#777" stroke-width="0.7" stroke-dasharray="10 3 2 3"/>
<line x1="520.70" y1="346.70" x2="526.70" y2="346.70" stroke="#222" stroke-width="0.8"/>
<line x1="523.70" y1="343.70" x2="523.70" y2="349.70" stroke="#222" stroke-width="0.8"/>
<line x1="572.30" y1="346.70" x2="578.30" y2="346.70" stroke="#222" stroke-width="0.8"/>
<line x1="575.30" y1="343.70" x2="575.30" y2="349.70" stroke="#222" stroke-width="0.8"/>
<line x1="520.70" y1="400.20" x2="526.70" y2="400.20" stroke="#222" stroke-width="0.8"/>
<line x1="523.70" y1="397.20" x2="523.70" y2="403.20" stroke="#222" stroke-width="0.8"/>
<line x1="572.30" y1="400.20" x2="578.30" y2="400.20" stroke="#222" stroke-width="0.8"/>
<line x1="575.30" y1="397.20" x2="575.30" y2="403.20" stroke="#222" stroke-width="0.8"/>
<line x1="523.70" y1="331.90" x2="575.30" y2="331.90" stroke="#222" stroke-width="0.8"/>
<path d="M524.00,331.90 L527.90,330.65 L527.90,333.15Z" fill="#111"/>
<path d="M575.00,331.90 L571.10,330.65 L571.10,333.15Z" fill="#111"/>
<line x1="523.70" y1="329.00" x2="523.70" y2="350.00" stroke="#555" stroke-width="0.6"/>
<line x1="575.30" y1="329.00" x2="575.30" y2="350.00" stroke="#555" stroke-width="0.6"/>
<text transform="translate(548.30 326.70) scale(0.86 1)" font-size="6.5" fill="#1a1a1a" text-anchor="middle" dominant-baseline="central">254</text>
<line x1="497.50" y1="395.00" x2="497.50" y2="421.50" stroke="#222" stroke-width="0.7"/>
<line x1="523.70" y1="397.00" x2="523.70" y2="421.50" stroke="#222" stroke-width="0.7"/>
<line x1="488.10" y1="419.30" x2="533.10" y2="419.30" stroke="#222" stroke-width="0.7"/>
<path d="M497.50,419.30 L493.60,418.05 L493.60,420.55Z" fill="#111"/>
<path d="M523.70,419.30 L527.60,418.05 L527.60,420.55Z" fill="#111"/>
<text transform="translate(509.20 413.40) scale(0.86 1)" font-size="6.5" fill="#1a1a1a" text-anchor="middle" dominant-baseline="central">108</text>
<line x1="445.30" y1="396.00" x2="445.30" y2="404.50" stroke="#777" stroke-width="0.8"/>
<line x1="466.80" y1="396.00" x2="466.80" y2="404.50" stroke="#777" stroke-width="0.8"/>
</svg></body></html>
